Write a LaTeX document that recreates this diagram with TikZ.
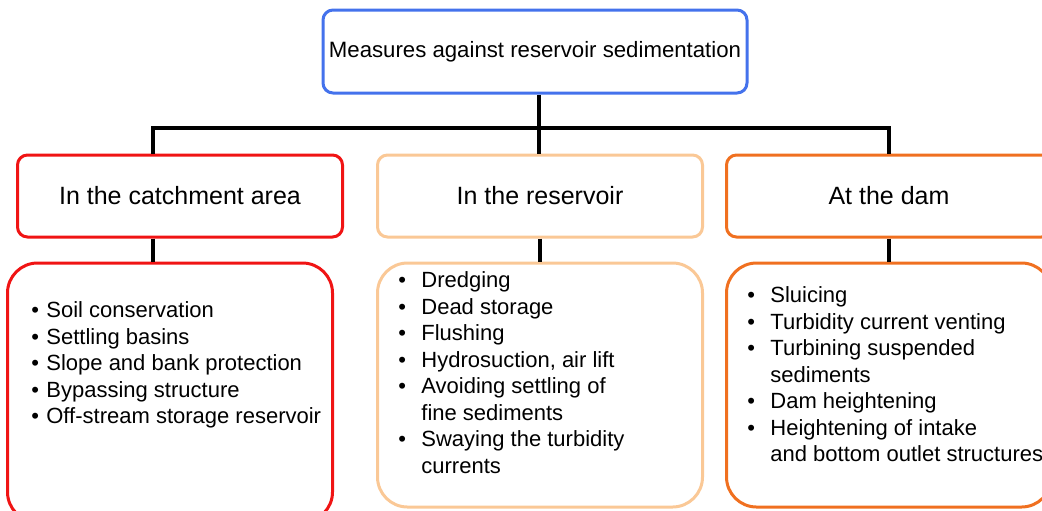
\documentclass[tikz,border=0pt]{standalone}
\usepackage{fontspec}
\setmainfont{Liberation Sans}
\usetikzlibrary{positioning}
\definecolor{topblue}{RGB}{68,114,236}
\definecolor{catchred}{RGB}{240,20,20}
\definecolor{respeach}{RGB}{250,200,150}
\definecolor{damorange}{RGB}{240,112,32}
\newcommand{\bul}[1][11.5pt]{\makebox[#1][l]{\textbullet}}

\begin{document}
\begin{tikzpicture}[x=0.5pt,y=-0.5pt,every node/.style={inner sep=0pt},
	head/.style={draw,rounded corners=5pt,line width=1.5pt,minimum width=162.5pt,minimum height=41pt,font=\fontsize{12.5}{15}\selectfont},
	listbox/.style={draw,rounded corners=15pt,line width=1.5pt,minimum width=162.5pt},
	items/.style={anchor=north west,align=left,font=\fontsize{11}{13.25}\selectfont},
	link/.style={line width=2pt}]
	\clip (0,0) rectangle (1042,510);
	
	\node[head,draw=topblue,minimum width=212pt,minimum height=41.5pt,font=\fontsize{11.1}{13}\selectfont] (top) at (535,51.5) {Measures against reservoir sedimentation};
	
	\node[head,draw=catchred] (catch) at (180,196) {In the catchment area};
	\node[head,draw=respeach] (res) [right=16pt of catch] {In the reservoir};
	\node[head,draw=damorange] (dam) [right=10.5pt of res] {At the dam};
	
	\node[listbox,draw=catchred,minimum height=129.5pt] (catchbox) [below=11.5pt of catch,xshift=-5pt] {};
	\node[listbox,draw=respeach,minimum height=122pt] (resbox) [below=11.5pt of res] {};
	\node[listbox,draw=damorange,minimum height=122pt] (dambox) [below=11.5pt of dam] {};
	
	\node[items] (catchlist) at ([shift={(25,40)}]catchbox.north west) {\bul[7.5pt]Soil conservation\\ \bul[7.5pt]Settling basins\\ \bul[7.5pt]Slope and bank protection\\ \bul[7.5pt]Bypassing structure\\ \bul[7.5pt]Off-stream storage reservoir};
	\node[items] (reslist) at ([shift={(22,10)}]resbox.north west) {\bul Dredging\\ \bul Dead storage\\ \bul Flushing\\ \bul Hydrosuction, air lift\\ \bul Avoiding settling of\\ \hspace*{11.5pt}fine sediments\\ \bul Swaying the turbidity\\ \hspace*{11.5pt}currents};
	\node[items] (damlist) at ([shift={(22,25)}]dambox.north west) {\bul Sluicing\\ \bul Turbidity current venting\\ \bul Turbining suspended\\ \hspace*{11.5pt}sediments\\ \bul Dam heightening\\ \bul Heightening of intake\\ \hspace*{11.5pt}and bottom outlet structures};
	
	\coordinate (fork) at (539,128);
	\coordinate (forkc) at (153,128);
	\coordinate (forkd) at (889,128);
	
	\draw[link] (fork |- top.south) -- (fork) -- (fork |- res.north);
	\draw[link] (forkc |- catch.north) -- (forkc) -- (forkd) -- (forkd |- dam.north);
	\draw[link] (forkc |- catch.south) -- (forkc |- catchbox.north);
	\draw[link] (res.south) -- (resbox.north);
	\draw[link] (dam.south) -- (dambox.north);
	
\end{tikzpicture}
\end{document}
